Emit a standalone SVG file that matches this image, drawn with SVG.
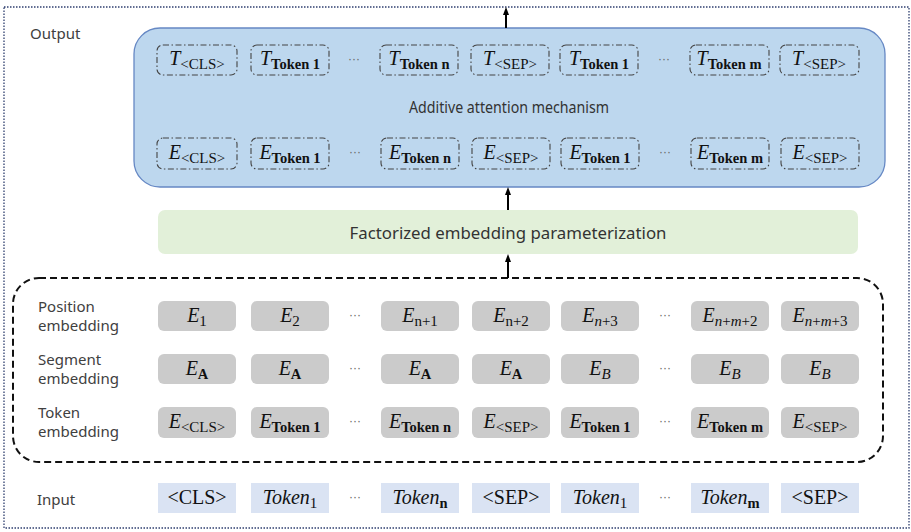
<svg xmlns="http://www.w3.org/2000/svg" width="911" height="532" viewBox="0 0 911 532">
<defs>
<marker id="ah" markerWidth="8" markerHeight="8" refX="4" refY="4" orient="auto" markerUnits="userSpaceOnUse">
<path d="M0,1 L8,4 L0,7 Z" fill="#000"/>
</marker>
<style>
.lbl{font-family:"Noto Sans","Liberation Sans",sans-serif;font-size:15px;fill:#404040}
.m{font-family:"Liberation Serif","DejaVu Serif",serif;font-size:20px;fill:#111;text-anchor:middle}
.i{font-style:italic}
.s{font-size:15px}
.sb{font-size:14.5px;font-weight:bold}
.dd{stroke:#444;stroke-width:1.1;fill:none;stroke-dasharray:6 2.5 1.5 2.5}
.g{fill:#CBCBCB}
.in{fill:#DAE3F3}
.dots{font-family:"Liberation Sans",sans-serif;font-size:12px;fill:#666;text-anchor:middle}
</style>
</defs>
<rect x="4" y="7" width="905" height="521" fill="none" stroke="#2F3F6F" stroke-width="1.3" stroke-dasharray="1.5 1.5"/>
<text class="lbl" x="30" y="39">Output</text>
<g id="attention">
<rect x="134" y="28" width="751" height="159" rx="26" fill="#BDD7EE" stroke="#6688C4" stroke-width="1.3"/>
<text x="509" y="113" font-family="Noto Sans,Liberation Sans,sans-serif" font-size="16" fill="#333" text-anchor="middle" textLength="200" lengthAdjust="spacingAndGlyphs">Additive attention mechanism</text>
<g id="trow">
<rect class="dd" x="157" y="45" width="80" height="30" rx="6"/>
<rect class="dd" x="251" y="45" width="78" height="30" rx="6"/>
<rect class="dd" x="380" y="45" width="78" height="30" rx="6"/>
<rect class="dd" x="471" y="45" width="78" height="30" rx="6"/>
<rect class="dd" x="560" y="45" width="78" height="30" rx="6"/>
<rect class="dd" x="690" y="45" width="79" height="30" rx="6"/>
<rect class="dd" x="780" y="45" width="79" height="30" rx="6"/>
<text class="m" x="197" y="65"><tspan class="i">T</tspan><tspan class="s" dy="4">&lt;CLS&gt;</tspan></text>
<text class="m" x="290" y="65"><tspan class="i">T</tspan><tspan class="sb" dy="4">Token 1</tspan></text>
<text class="dots" x="354" y="63">···</text>
<text class="m" x="419" y="65"><tspan class="i">T</tspan><tspan class="sb" dy="4">Token n</tspan></text>
<text class="m" x="510" y="65"><tspan class="i">T</tspan><tspan class="s" dy="4">&lt;SEP&gt;</tspan></text>
<text class="m" x="599" y="65"><tspan class="i">T</tspan><tspan class="sb" dy="4">Token 1</tspan></text>
<text class="dots" x="664" y="63">···</text>
<text class="m" x="729" y="65"><tspan class="i">T</tspan><tspan class="sb" dy="4">Token m</tspan></text>
<text class="m" x="819" y="65"><tspan class="i">T</tspan><tspan class="s" dy="4">&lt;SEP&gt;</tspan></text>
</g>
<g id="erow">
<rect class="dd" x="157" y="138" width="80" height="31" rx="6"/>
<rect class="dd" x="251" y="138" width="78" height="31" rx="6"/>
<rect class="dd" x="381" y="138" width="78" height="31" rx="6"/>
<rect class="dd" x="472" y="138" width="78" height="31" rx="6"/>
<rect class="dd" x="561" y="138" width="78" height="31" rx="6"/>
<rect class="dd" x="691" y="138" width="78" height="31" rx="6"/>
<rect class="dd" x="781" y="138" width="78" height="31" rx="6"/>
<text class="m" x="197" y="159"><tspan class="i">E</tspan><tspan class="s" dy="4">&lt;CLS&gt;</tspan></text>
<text class="m" x="290" y="159"><tspan class="i">E</tspan><tspan class="sb" dy="4">Token 1</tspan></text>
<text class="dots" x="355" y="156">···</text>
<text class="m" x="420" y="159"><tspan class="i">E</tspan><tspan class="sb" dy="4">Token n</tspan></text>
<text class="m" x="511" y="159"><tspan class="i">E</tspan><tspan class="s" dy="4">&lt;SEP&gt;</tspan></text>
<text class="m" x="600" y="159"><tspan class="i">E</tspan><tspan class="sb" dy="4">Token 1</tspan></text>
<text class="dots" x="665" y="156">···</text>
<text class="m" x="730" y="159"><tspan class="i">E</tspan><tspan class="sb" dy="4">Token m</tspan></text>
<text class="m" x="820" y="159"><tspan class="i">E</tspan><tspan class="s" dy="4">&lt;SEP&gt;</tspan></text>
</g>
</g>
<g id="factorized">
<rect x="158" y="210" width="700" height="44" rx="7" fill="#E2F0D9"/>
<text x="508" y="239" font-family="Noto Sans,Liberation Sans,sans-serif" font-size="16.5" fill="#333" text-anchor="middle" textLength="317" lengthAdjust="spacingAndGlyphs">Factorized embedding parameterization</text>
</g>
<g id="embeddings">
<rect x="13" y="278" width="870" height="184" rx="26" fill="none" stroke="#111" stroke-width="2" stroke-dasharray="7 4"/>
<text class="lbl" x="38" y="312">Position</text>
<text class="lbl" x="38" y="331">embedding</text>
<text class="lbl" x="38" y="365">Segment</text>
<text class="lbl" x="38" y="384">embedding</text>
<text class="lbl" x="38" y="418">Token</text>
<text class="lbl" x="38" y="437">embedding</text>
<g id="position">
<rect class="g" x="158" y="301" width="78" height="30" rx="6"/>
<rect class="g" x="251" y="301" width="78" height="30" rx="6"/>
<rect class="g" x="381" y="301" width="78" height="30" rx="6"/>
<rect class="g" x="472" y="301" width="78" height="30" rx="6"/>
<rect class="g" x="561" y="301" width="78" height="30" rx="6"/>
<rect class="g" x="691" y="301" width="78" height="30" rx="6"/>
<rect class="g" x="781" y="301" width="78" height="30" rx="6"/>
<text class="m" x="197" y="322"><tspan class="i">E</tspan><tspan class="s" dy="4">1</tspan></text>
<text class="m" x="290" y="322"><tspan class="i">E</tspan><tspan class="s" dy="4">2</tspan></text>
<text class="dots" x="355" y="319">···</text>
<text class="m" x="420" y="322"><tspan class="i">E</tspan><tspan class="s" dy="4">n+1</tspan></text>
<text class="m" x="511" y="322"><tspan class="i">E</tspan><tspan class="s" dy="4">n+2</tspan></text>
<text class="m" x="600" y="322"><tspan class="i">E</tspan><tspan class="s i" dy="4">n</tspan><tspan class="s">+3</tspan></text>
<text class="dots" x="665" y="319">···</text>
<text class="m" x="730" y="322"><tspan class="i">E</tspan><tspan class="s i" dy="4">n</tspan><tspan class="s">+</tspan><tspan class="s i">m</tspan><tspan class="s">+2</tspan></text>
<text class="m" x="820" y="322"><tspan class="i">E</tspan><tspan class="s i" dy="4">n</tspan><tspan class="s">+</tspan><tspan class="s i">m</tspan><tspan class="s">+3</tspan></text>
</g>
<g id="segment">
<rect class="g" x="158" y="354" width="78" height="30" rx="6"/>
<rect class="g" x="251" y="354" width="78" height="30" rx="6"/>
<rect class="g" x="381" y="354" width="78" height="30" rx="6"/>
<rect class="g" x="472" y="354" width="78" height="30" rx="6"/>
<rect class="g" x="561" y="354" width="78" height="30" rx="6"/>
<rect class="g" x="691" y="354" width="78" height="30" rx="6"/>
<rect class="g" x="781" y="354" width="78" height="30" rx="6"/>
<text class="m" x="197" y="375"><tspan class="i">E</tspan><tspan class="sb" dy="4">A</tspan></text>
<text class="m" x="290" y="375"><tspan class="i">E</tspan><tspan class="sb" dy="4">A</tspan></text>
<text class="dots" x="355" y="372">···</text>
<text class="m" x="420" y="375"><tspan class="i">E</tspan><tspan class="sb" dy="4">A</tspan></text>
<text class="m" x="511" y="375"><tspan class="i">E</tspan><tspan class="sb" dy="4">A</tspan></text>
<text class="m" x="600" y="375"><tspan class="i">E</tspan><tspan class="s i" dy="4">B</tspan></text>
<text class="dots" x="665" y="372">···</text>
<text class="m" x="730" y="375"><tspan class="i">E</tspan><tspan class="s i" dy="4">B</tspan></text>
<text class="m" x="820" y="375"><tspan class="i">E</tspan><tspan class="s i" dy="4">B</tspan></text>
</g>
<g id="token">
<rect class="g" x="158" y="407" width="78" height="31" rx="6"/>
<rect class="g" x="251" y="407" width="78" height="31" rx="6"/>
<rect class="g" x="381" y="407" width="78" height="31" rx="6"/>
<rect class="g" x="472" y="407" width="78" height="31" rx="6"/>
<rect class="g" x="561" y="407" width="78" height="31" rx="6"/>
<rect class="g" x="691" y="407" width="78" height="31" rx="6"/>
<rect class="g" x="781" y="407" width="78" height="31" rx="6"/>
<text class="m" x="197" y="428"><tspan class="i">E</tspan><tspan class="s" dy="4">&lt;CLS&gt;</tspan></text>
<text class="m" x="290" y="428"><tspan class="i">E</tspan><tspan class="sb" dy="4">Token 1</tspan></text>
<text class="dots" x="355" y="425">···</text>
<text class="m" x="420" y="428"><tspan class="i">E</tspan><tspan class="sb" dy="4">Token n</tspan></text>
<text class="m" x="511" y="428"><tspan class="i">E</tspan><tspan class="s" dy="4">&lt;SEP&gt;</tspan></text>
<text class="m" x="600" y="428"><tspan class="i">E</tspan><tspan class="sb" dy="4">Token 1</tspan></text>
<text class="dots" x="665" y="425">···</text>
<text class="m" x="730" y="428"><tspan class="i">E</tspan><tspan class="sb" dy="4">Token m</tspan></text>
<text class="m" x="820" y="428"><tspan class="i">E</tspan><tspan class="s" dy="4">&lt;SEP&gt;</tspan></text>
</g>
</g>
<g id="input">
<text class="lbl" x="37" y="505">Input</text>
<rect class="in" x="158" y="483" width="78" height="30"/>
<rect class="in" x="251" y="483" width="78" height="30"/>
<rect class="in" x="381" y="483" width="78" height="30"/>
<rect class="in" x="472" y="483" width="78" height="30"/>
<rect class="in" x="561" y="483" width="78" height="30"/>
<rect class="in" x="691" y="483" width="78" height="30"/>
<rect class="in" x="781" y="483" width="78" height="30"/>
<text class="m" x="197" y="504">&lt;CLS&gt;</text>
<text class="m" x="290" y="504"><tspan class="i">Token</tspan><tspan class="s" dy="4">1</tspan></text>
<text class="dots" x="355" y="501">···</text>
<text class="m" x="420" y="504"><tspan class="i">Token</tspan><tspan class="sb" dy="4">n</tspan></text>
<text class="m" x="511" y="504">&lt;SEP&gt;</text>
<text class="m" x="600" y="504"><tspan class="i">Token</tspan><tspan class="s" dy="4">1</tspan></text>
<text class="dots" x="665" y="501">···</text>
<text class="m" x="730" y="504"><tspan class="i">Token</tspan><tspan class="sb" dy="4">m</tspan></text>
<text class="m" x="820" y="504">&lt;SEP&gt;</text>
</g>
<g id="connectors" stroke="#000" stroke-width="2" fill="none">
<line x1="508" y1="278" x2="508" y2="258" marker-end="url(#ah)"/>
<line x1="508" y1="210" x2="508" y2="191" marker-end="url(#ah)"/>
<line x1="506" y1="28" x2="506" y2="11" marker-end="url(#ah)"/>
</g>
</svg>
